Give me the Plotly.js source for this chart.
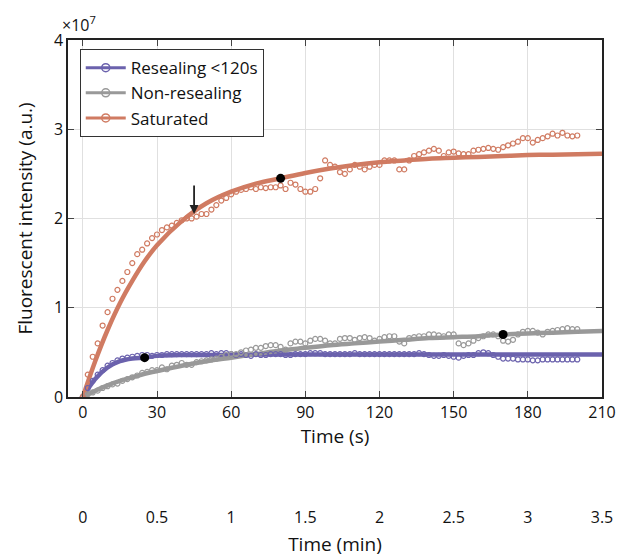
<!DOCTYPE html>
<html><head><script src="https://cdn.plot.ly/plotly-3.0.1.min.js"></script></head>
<body style="margin:0"><div id="c" style="width:620px;height:557px"></div>
<script>
const tData=[];for(let t=0;t<=200;t+=2)tData.push(t);
const satData=[0,0.25,0.45,0.6,0.8,0.95,1.1,1.2,1.3,1.4,1.5,1.6,1.65,1.72,1.78,1.82,1.87,1.9,1.92,1.95,1.98,2.0,2.0,2.02,2.05,2.05,2.1,2.15,2.2,2.23,2.27,2.3,2.32,2.33,2.35,2.33,2.35,2.34,2.35,2.35,2.37,2.33,2.4,2.38,2.33,2.3,2.3,2.33,2.45,2.65,2.6,2.58,2.52,2.5,2.55,2.6,2.58,2.55,2.58,2.6,2.6,2.65,2.65,2.65,2.55,2.55,2.65,2.7,2.72,2.74,2.76,2.78,2.76,2.7,2.74,2.75,2.73,2.72,2.72,2.76,2.77,2.78,2.79,2.78,2.77,2.8,2.82,2.84,2.86,2.9,2.9,2.85,2.88,2.9,2.92,2.95,2.93,2.96,2.93,2.92,2.93];
const resData=[0,0.1,0.18,0.25,0.3,0.35,0.38,0.41,0.43,0.44,0.45,0.46,0.47,0.47,0.46,0.47,0.47,0.48,0.48,0.48,0.48,0.48,0.48,0.48,0.48,0.48,0.49,0.48,0.49,0.49,0.48,0.47,0.48,0.47,0.46,0.48,0.47,0.47,0.48,0.48,0.48,0.47,0.47,0.48,0.48,0.48,0.49,0.49,0.49,0.48,0.48,0.48,0.48,0.48,0.48,0.49,0.48,0.48,0.48,0.48,0.48,0.48,0.48,0.48,0.48,0.48,0.48,0.48,0.49,0.48,0.47,0.46,0.46,0.47,0.46,0.45,0.44,0.46,0.47,0.47,0.49,0.5,0.49,0.47,0.45,0.43,0.43,0.43,0.42,0.42,0.42,0.41,0.41,0.42,0.42,0.42,0.42,0.42,0.42,0.42,0.42];
const nonData=[0,0.03,0.05,0.07,0.1,0.12,0.14,0.15,0.18,0.2,0.22,0.24,0.27,0.28,0.3,0.3,0.33,0.31,0.35,0.36,0.38,0.36,0.36,0.39,0.4,0.41,0.42,0.43,0.45,0.47,0.48,0.48,0.5,0.52,0.53,0.55,0.55,0.57,0.58,0.58,0.56,0.53,0.6,0.62,0.62,0.6,0.63,0.65,0.65,0.63,0.6,0.6,0.65,0.66,0.66,0.64,0.66,0.67,0.66,0.63,0.65,0.67,0.68,0.68,0.62,0.6,0.66,0.67,0.68,0.68,0.7,0.7,0.69,0.68,0.7,0.7,0.6,0.58,0.6,0.63,0.66,0.68,0.7,0.7,0.68,0.63,0.62,0.64,0.7,0.73,0.74,0.74,0.72,0.7,0.73,0.74,0.75,0.76,0.77,0.76,0.76];
const tFit=[0,5,10,15,20,25,30,40,50,60,70,80,90,100,110,120,130,140,150,160,170,180,190,200,210];
const satFit=[0,0.4,0.75,1.05,1.3,1.52,1.7,1.97,2.17,2.3,2.39,2.45,2.51,2.56,2.6,2.63,2.65,2.67,2.68,2.69,2.70,2.71,2.715,2.72,2.725];
const resFit=[0,0.2,0.33,0.4,0.43,0.44,0.46,0.47,0.47,0.47,0.475,0.475,0.475,0.475,0.475,0.475,0.475,0.475,0.475,0.475,0.475,0.475,0.475,0.475,0.475];
const nonFit=[0,0.07,0.13,0.18,0.22,0.26,0.29,0.35,0.4,0.44,0.48,0.52,0.55,0.58,0.6,0.62,0.64,0.66,0.67,0.68,0.70,0.71,0.72,0.73,0.74];
const dotX=[25,80,170], dotY=[0.44,2.45,0.70];
const minTicks=[0,0.5,1,1.5,2,2.5,3,3.5];
const cP='#6b62ad',cG='#999999',cS='#d07b62';
const sc=v=>v.map(a=>a*1e7);
function ptsOnly(y,c){return {x:tData,y:sc(y),mode:'markers',showlegend:false,marker:{symbol:'circle-open',size:5,color:c,line:{width:1.2}},type:'scatter',hoverinfo:'skip'};}
function fit(y,c){return {x:tFit,y:sc(y),mode:'lines',showlegend:false,line:{color:c,width:4.5,shape:'spline'},type:'scatter'};}
function leg(name,c){return {x:[null],y:[null],mode:'lines+markers',name:name,line:{color:c,width:3},marker:{symbol:'circle-open',size:8,color:c,line:{width:1.5}}};}
const data=[
 fit(resFit,cP),fit(nonFit,cG),fit(satFit,cS),
 ptsOnly(resData,cP),ptsOnly(nonData,cG),ptsOnly(satData,cS),
 leg('Resealing <120s',cP),leg('Non-resealing',cG),leg('Saturated',cS),
 {x:dotX,y:sc(dotY),mode:'markers',showlegend:false,marker:{color:'black',size:9}},
 {x:minTicks.map(m=>m*60),y:minTicks.map(()=>0),xaxis:'x2',mode:'markers',marker:{opacity:0},showlegend:false,hoverinfo:'skip'}
];
const f={family:'Open Sans, Liberation Sans, sans-serif',size:17,color:'#111'};
const layout={width:620,height:557,margin:{l:68,r:18,t:40,b:60},font:f,plot_bgcolor:'white',paper_bgcolor:'white',
 xaxis:{range:[-6,210],tickvals:[0,30,60,90,120,150,180,210],showline:true,linecolor:'#222',linewidth:1.5,mirror:'ticks',ticks:'inside',ticklen:6,gridcolor:'#e0e0e0',zeroline:false,title:{text:'Time (s)',font:{size:19},standoff:8},tickfont:{size:16}},
 xaxis2:{overlaying:'x',anchor:'free',position:0,side:'bottom',range:[-6,210],tickvals:minTicks.map(m=>m*60),ticktext:minTicks.map(String),showgrid:false,showline:false,ticks:'outside',ticklen:6,tickcolor:'rgba(0,0,0,0)',zeroline:false,tickfont:{size:16},title:{text:'Time (min)',font:{size:19},standoff:12}},
 yaxis:{domain:[0.219,1],range:[0,4e7],tickvals:[0,1e7,2e7,3e7,4e7],ticktext:['0','1','2','3','4'],showline:true,linecolor:'#222',linewidth:1.5,mirror:'ticks',ticks:'inside',ticklen:6,gridcolor:'#e0e0e0',zeroline:false,title:{text:'Fluorescent intensity (a.u.)',font:{size:19},standoff:16},tickfont:{size:16}},
 legend:{x:0.022,y:0.98,xanchor:'left',yanchor:'top',bordercolor:'#333',borderwidth:1,bgcolor:'white',font:{size:17},itemwidth:40,tracegroupgap:0},
 annotations:[{xref:'paper',yref:'paper',x:-0.015,y:1.005,xanchor:'left',yanchor:'bottom',text:'×10<sup>7</sup>',showarrow:false,font:{size:16}},
  {x:45,y:2.05e7,ax:0,ay:-30,showarrow:true,arrowhead:2,arrowsize:1,arrowwidth:1.8,arrowcolor:'#222',text:''}],
 showlegend:true};
Plotly.newPlot('c',data,layout,{displayModeBar:false});
</script></body></html>
